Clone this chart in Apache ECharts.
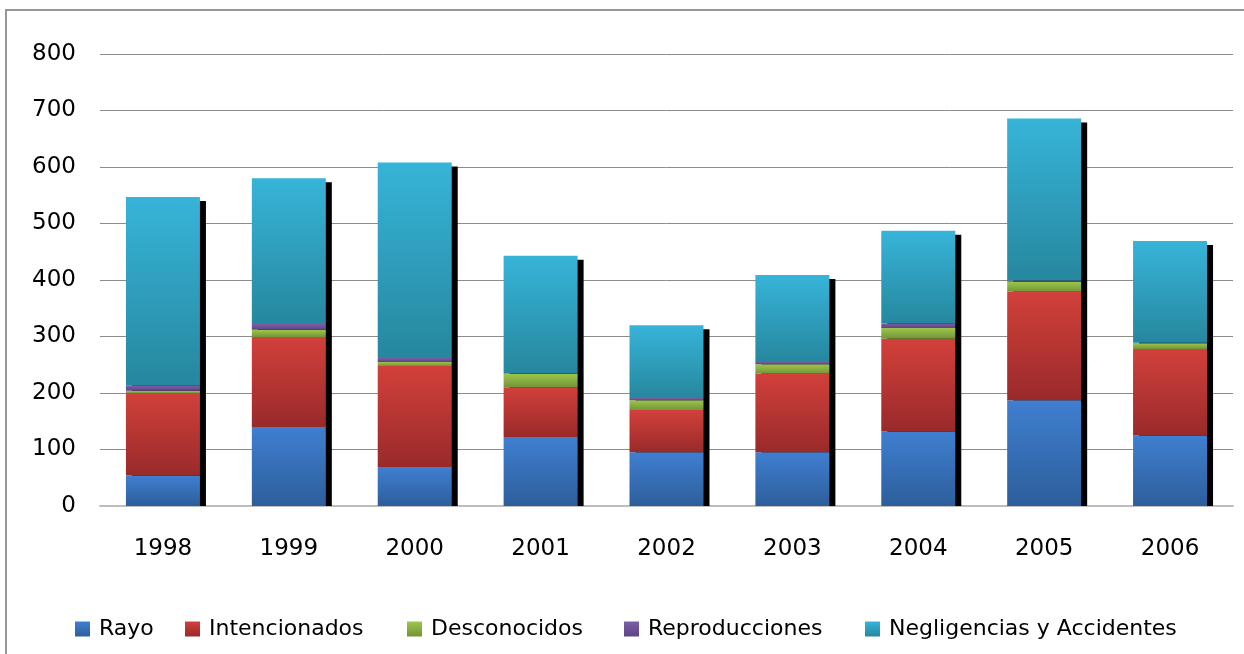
<!DOCTYPE html>
<html>
<head>
<meta charset="utf-8">
<script src="https://cdn.jsdelivr.net/npm/echarts@6/dist/echarts.min.js"></script>
<style>
  html, body { margin: 0; padding: 0; background: #fff; }
  #pic { width: 1244px; height: 654px; }
</style>
</head>
<body>
<div id="pic"></div>
<script>
var years = ['1998', '1999', '2000', '2001', '2002', '2003', '2004', '2005', '2006'];
var rayo = [54, 140, 69, 122, 95, 95, 132, 187, 125];
var intencionados = [146, 159, 179, 88, 75, 139, 164, 192, 153];
var desconocidos = [4, 13, 7, 24, 17, 17, 19, 18, 10];
var reproducciones = [9, 10, 7, 1, 4, 4, 8, 2, 1];
var negligencias = [334, 258, 346, 208, 129, 154, 164, 287, 180];
var yTicks = [0, 100, 200, 300, 400, 500, 600, 700, 800];
var names = ['Rayo', 'Intencionados', 'Desconocidos', 'Reproducciones', 'Negligencias y Accidentes'];

var totals = [];
for (var i = 0; i < years.length; i++) {
    totals.push([i, rayo[i] + intencionados[i] + desconocidos[i] + reproducciones[i] + negligencias[i]]);
}

function grad(top, bottom) {
    return new echarts.graphic.LinearGradient(0, 0, 0, 1, [
        { offset: 0, color: top },
        { offset: 1, color: bottom }
    ]);
}

function stackSeries(name, data, top, bottom) {
    return {
        name: name,
        type: 'bar',
        stack: 'total',
        barWidth: 74,
        z: 3,
        data: data,
        itemStyle: { color: grad(top, bottom) },
        emphasis: { disabled: true }
    };
}

var font = 'DejaVu Sans';
// one legend per item so each sits where Excel put it
var legendLeft = [75, 185, 407, 624, 865];
var legends = [];
for (var k = 0; k < names.length; k++) {
    legends.push({
        left: legendLeft[k],
        top: 618,
        padding: 0,
        itemWidth: 15,
        itemHeight: 15,
        icon: 'rect',
        data: [names[k]],
        textStyle: { fontFamily: font, fontSize: 22, color: '#000', padding: [0, 0, 0, 4] }
    });
}

var myChart = echarts.init(document.getElementById('pic'));
var option = {
    animation: false,
    graphic: [{
        type: 'rect',
        shape: { x: 6, y: 10, width: 1300, height: 700 },
        style: { fill: 'none', stroke: '#969696', lineWidth: 2 },
        silent: true
    }],
    grid: { left: 100, right: 11, top: 54, bottom: 148 },
    legend: legends,
    xAxis: {
        type: 'category',
        data: years,
        axisLine: { lineStyle: { color: '#bdbdbd', width: 2 } },
        axisTick: { show: false },
        axisLabel: { fontFamily: font, fontSize: 23, color: '#000', margin: 32 }
    },
    yAxis: {
        type: 'value',
        min: 0,
        max: yTicks[yTicks.length - 1],
        interval: 100,
        axisLine: { show: false },
        axisTick: { show: false },
        splitLine: { lineStyle: { color: '#8c8c8c', width: 1 } },
        axisLabel: { fontFamily: font, fontSize: 23, color: '#000', margin: 24 }
    },
    series: [
        {
            name: 'sombra',
            type: 'custom',
            z: 1,
            silent: true,
            data: totals,
            renderItem: function(params, api) {
                var top = api.coord([api.value(0), api.value(1)]);
                var base = api.coord([api.value(0), 0]);
                return {
                    type: 'rect',
                    shape: { x: top[0] - 37 + 6, y: top[1] + 4, width: 74, height: base[1] - top[1] - 4 },
                    style: { fill: '#000' }
                };
            }
        },
        stackSeries(names[0], rayo, '#3f7fd0', '#2d5e9b'),
        stackSeries(names[1], intencionados, '#d2403b', '#992a2a'),
        stackSeries(names[2], desconocidos, '#9dc64b', '#739438'),
        stackSeries(names[3], reproducciones, '#7d5fa9', '#5e4384'),
        stackSeries(names[4], negligencias, '#37b4d9', '#26879e')
    ]
};
myChart.setOption(option);
</script>
</body>
</html>
